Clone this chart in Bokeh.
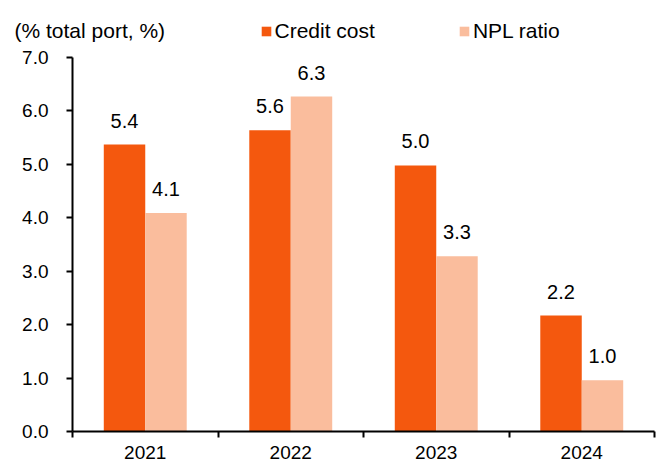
from bokeh.plotting import figure
from bokeh.models import (Range1d, FixedTicker, Label, Legend, LegendItem,
                          ColumnDataSource, PrintfTickFormatter)
from bokeh.transform import dodge
from bokeh.core.properties import value
from bokeh.embed import file_html
from bokeh.resources import INLINE

# ---- data ----
years = ["2021", "2022", "2023", "2024"]
credit_cost = [5.37, 5.64, 4.98, 2.17]
npl_ratio = [4.09, 6.27, 3.28, 0.96]
y_ticks = [0, 1, 2, 3, 4, 5, 6, 7]
unit_title = "(% total port, %)"
series_names = ["Credit cost", "NPL ratio"]
colors = ["#F4580E", "#FABD9D"]

# ---- layout constants (pixels, page coordinates) ----
FONT = "Liberation Sans"
W, H = 666, 464
AX_LEFT_PX, AX_RIGHT_PX = 72, 654      # x = 0 and x = n categories
ZERO_PX, TOP_PX = 431, 57              # y = 0 and y = 7
Y_MAX = y_ticks[-1]
n = len(years)
cat_px = (AX_RIGHT_PX - AX_LEFT_PX) / n
unit_px = (ZERO_PX - TOP_PX) / Y_MAX
BAR_W = 0.285
OFF = BAR_W / 2

x_start = -AX_LEFT_PX / cat_px
x_end = n + (W - AX_RIGHT_PX) / cat_px
y_start = -(H - ZERO_PX) / unit_px
y_end = ZERO_PX / unit_px

src = ColumnDataSource(dict(
    x=[i + 0.5 for i in range(n)],
    cc=credit_cost,
    npl=npl_ratio,
    cc_lbl=["%.1f" % v for v in credit_cost],
    npl_lbl=["%.1f" % v for v in npl_ratio],
))

p = figure(width=W, height=H, output_backend="svg", toolbar_location=None,
           x_range=Range1d(x_start, x_end), y_range=Range1d(y_start, y_end),
           min_border=0)
p.outline_line_color = None
p.xgrid.visible = False
p.ygrid.visible = False
p.background_fill_color = "white"
p.border_fill_color = "white"

r1 = p.vbar(x=dodge("x", -OFF, range=p.x_range), top="cc", width=BAR_W,
            source=src, fill_color=colors[0], line_color=None)
r2 = p.vbar(x=dodge("x", OFF, range=p.x_range), top="npl", width=BAR_W,
            source=src, fill_color=colors[1], line_color=None)

for col, lbl, off in (("cc", "cc_lbl", -OFF), ("npl", "npl_lbl", OFF)):
    p.text(x=dodge("x", off, range=p.x_range), y=col, text=lbl, source=src,
           text_align="center", text_baseline="middle", y_offset=-24,
           text_font=value(FONT), text_font_size="20px", text_color="black")

# y axis
ya = p.yaxis[0]
ya.fixed_location = 0
ya.ticker = FixedTicker(ticks=y_ticks)
ya.bounds = (0, Y_MAX)
ya.formatter = PrintfTickFormatter(format="%.1f")
ya.major_tick_out = 6
ya.major_tick_in = 0
ya.minor_tick_out = 0
ya.minor_tick_in = 0
ya.major_label_standoff = 18
ya.axis_line_width = 2
ya.major_tick_line_width = 2
ya.axis_line_color = "black"
ya.major_tick_line_color = "black"
ya.major_label_text_font = FONT
ya.major_label_text_font_size = "19px"
ya.major_label_text_color = "black"

# x axis
xa = p.xaxis[0]
centers = [i + 0.5 for i in range(n)]
xa.fixed_location = 0
xa.bounds = (0, n)
xa.ticker = FixedTicker(ticks=centers, minor_ticks=list(range(n + 1)))
xa.major_label_overrides = {c: y for c, y in zip(centers, years)}
xa.major_tick_out = 0
xa.major_tick_in = 0
xa.minor_tick_out = 6
xa.minor_tick_in = 0
xa.minor_tick_line_width = 2
xa.minor_tick_line_color = "black"
xa.axis_line_width = 2
xa.axis_line_color = "black"
xa.major_label_standoff = 8
xa.major_label_text_font = FONT
xa.major_label_text_font_size = "19px"
xa.major_label_text_color = "black"

# unit title
title_x = (14 - AX_LEFT_PX) / cat_px
title_y = (ZERO_PX - 30) / unit_px
p.add_layout(Label(x=title_x, y=title_y, text=unit_title, text_font=FONT,
                   text_font_size="21px", text_baseline="middle",
                   text_align="left", text_color="black"))

legend = Legend(items=[LegendItem(label=series_names[0], renderers=[r1]),
                       LegendItem(label=series_names[1], renderers=[r2])],
                orientation="horizontal", location=(259.5, 421),
                glyph_width=12, glyph_height=12, label_standoff=3, spacing=83,
                padding=0, margin=0, border_line_color=None,
                background_fill_alpha=0, label_text_font=FONT,
                label_text_font_size="21px", label_text_color="black")
p.add_layout(legend)

open("out.html", "w").write(file_html(p, INLINE))
